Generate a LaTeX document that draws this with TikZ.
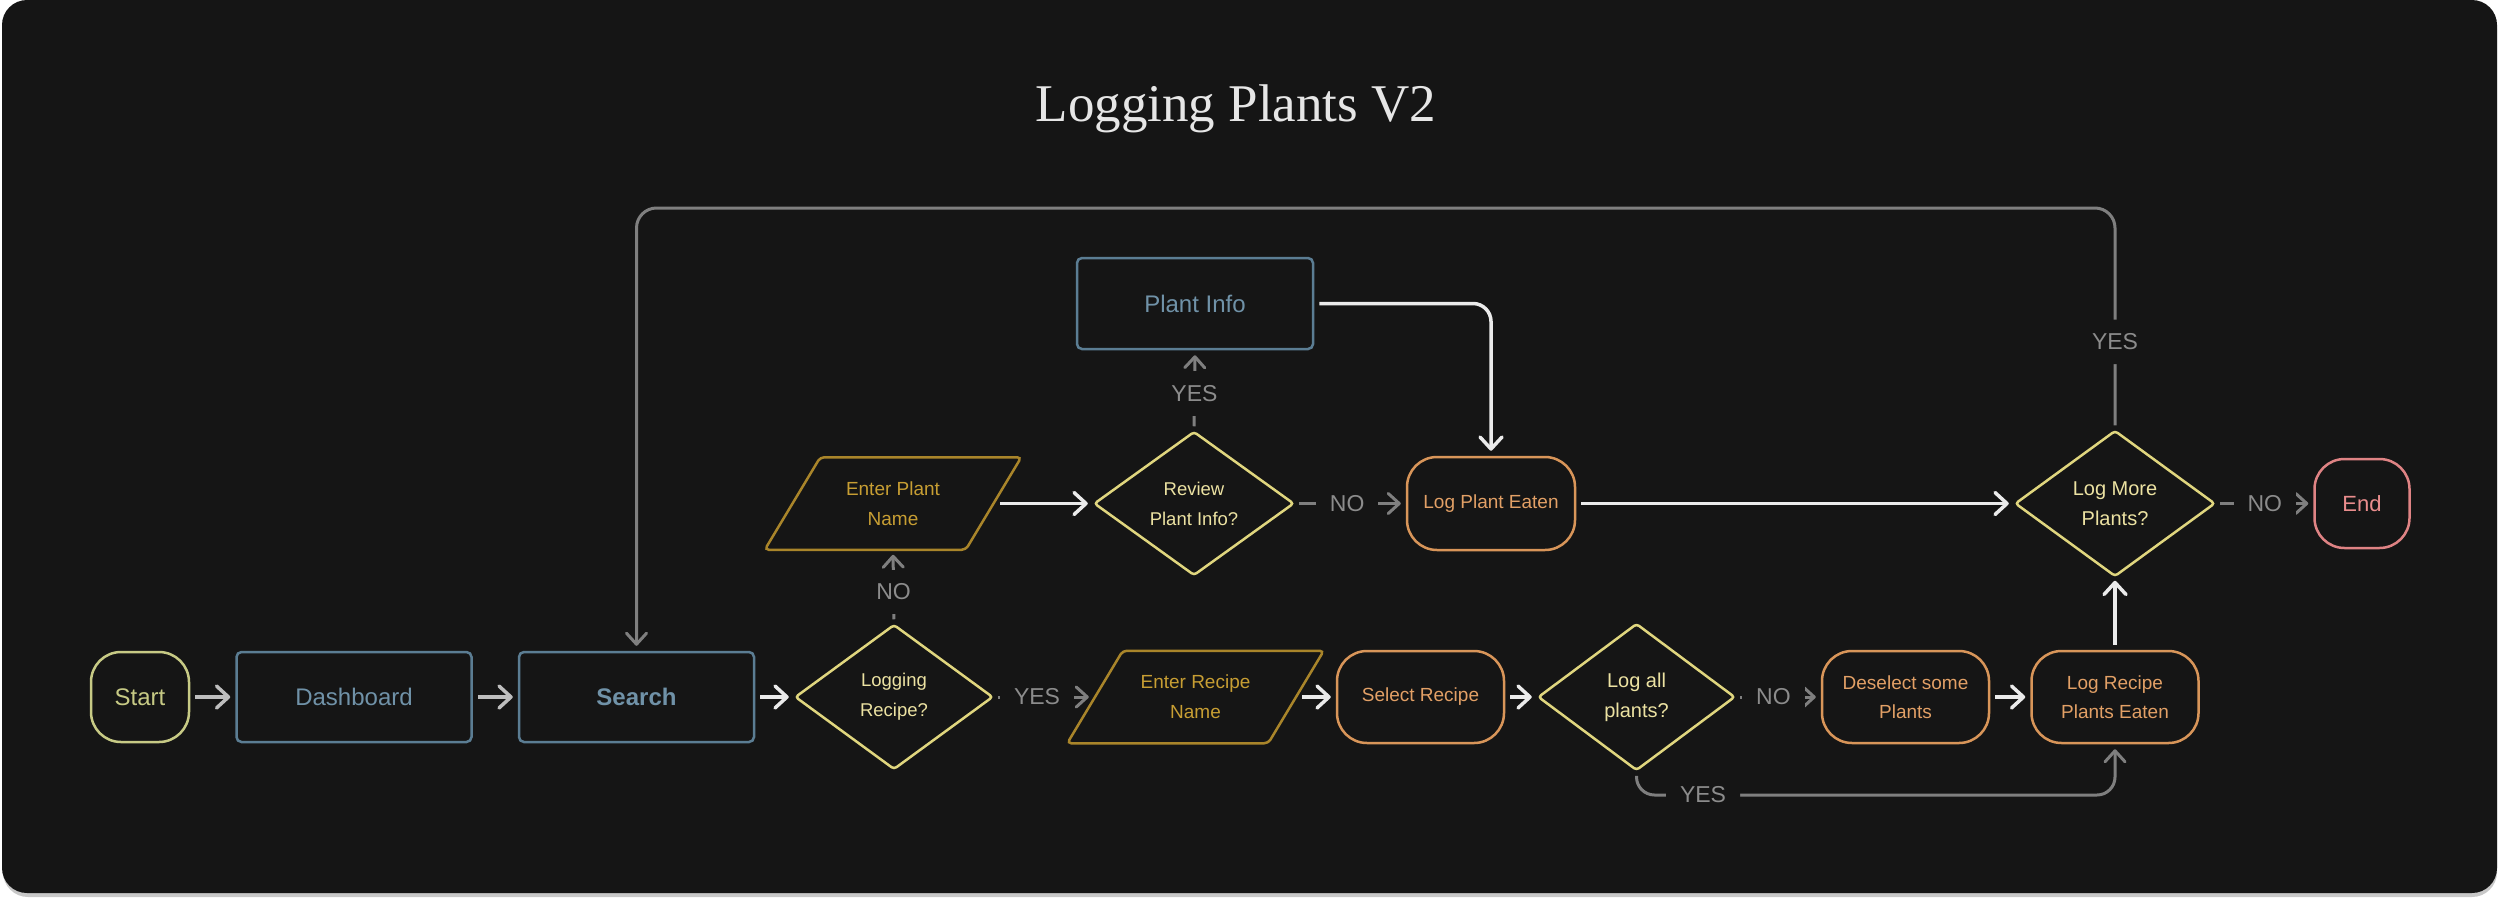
\documentclass[tikz,border=0pt]{standalone}
\usepackage{fontspec}
\setmainfont{Liberation Sans}
\newfontfamily\titlefont{Liberation Serif}
\usetikzlibrary{arrows.meta,shapes.geometric,calc}
\definecolor{bg}{HTML}{151515}
\definecolor{cStart}{HTML}{C7CA85}
\definecolor{cBlue}{HTML}{5B7D93}
\definecolor{tBlue}{HTML}{7092A8}
\definecolor{cDia}{HTML}{E0D67E}
\definecolor{tDia}{HTML}{ECE2A2}
\definecolor{cPara}{HTML}{A9852A}
\definecolor{tPara}{HTML}{C79E33}
\definecolor{cOr}{HTML}{D89559}
\definecolor{tOr}{HTML}{E2A066}
\definecolor{cEnd}{HTML}{DF8384}
\definecolor{tEnd}{HTML}{EA8D8D}
\definecolor{cW}{HTML}{EBEBEB}
\definecolor{cWtwo}{HTML}{BEBEBE}
\definecolor{cG}{HTML}{7F7F7F}
\definecolor{tG}{HTML}{8C8C8C}
\definecolor{cTitle}{HTML}{E6E6E6}
\definecolor{shadowc}{HTML}{C8C8C8}
\begin{document}
\begin{tikzpicture}[x=1pt,y=-1pt,
  base/.style={line width=2.5pt, inner sep=0pt, align=center, font=\fontsize{19}{30}\selectfont},
  blueb/.style={base, draw=cBlue, text=tBlue, rounded corners=5pt, minimum width=235pt, minimum height=90pt, font=\fontsize{24}{30}\selectfont},
  orng/.style={base, draw=cOr, text=tOr, rounded corners=30pt, minimum width=167pt, minimum height=92pt, font=\fontsize{19}{29}\selectfont},
  dia/.style={base, diamond, draw=cDia, text=tDia, rounded corners=3pt, minimum width=198pt, minimum height=145pt},
  para/.style={base, text=tPara, minimum width=254pt, minimum height=90pt},
  parashape/.style={draw=cPara, line width=2.5pt, rounded corners=4pt},
  warrow/.style={draw=cW, line width=3.5pt, -{Straight Barb[length=12pt,width=22pt,round]}, shorten <=5pt, shorten >=5pt},
  garrow/.style={draw=cG, line width=3pt, -{Straight Barb[length=11pt,width=20pt,round]}, shorten <=4pt, shorten >=5pt},
  lbl/.style={fill=bg, text=tG, inner xsep=14pt, inner ysep=14pt, font=\fontsize{23}{23}\selectfont},
]
\useasboundingbox (0,0) rectangle (2500,900);
\fill[white] (0,0) rectangle (2500,900);
\fill[shadowc, rounded corners=25pt] (3,4) rectangle (2497,897);
\fill[bg, rounded corners=25pt] (2,0) rectangle (2497,893);

\node[font=\titlefont\fontsize{53}{60}\selectfont, text=cTitle, anchor=base] (title) at (1236,121) {Logging Plants V2};

% bottom row
\node[base, draw=cStart, text=cStart, rounded corners=30pt, minimum width=98pt, minimum height=90pt, font=\fontsize{24}{30}\selectfont] (start) at (140,697) {Start};
\node[blueb] (dash) at (354,697) {Dashboard};
\node[blueb, font=\fontsize{24}{30}\selectfont\bfseries] (search) at (636.5,697) {Search};
\node[dia, font=\fontsize{18.5}{30}\selectfont] (logrec) at (894,697) {Logging\\Recipe?};
\node[para] (erec) at (1195.5,697) {Enter Recipe\\Name};
\draw[parashape] (erec.south west) -- ($(erec.south west)+(201,0)$) -- (erec.north east) -- ($(erec.north east)+(-201,0)$) -- cycle;
\coordinate (erecl) at ($(erec.west)+(26.5,0)$);
\coordinate (erecr) at ($(erec.east)+(-26.5,0)$);
\node[orng] (selrec) at (1420.5,697) {Select Recipe};
\node[dia, font=\fontsize{20}{30}\selectfont, minimum width=197pt, minimum height=147pt] (logall) at (1636.5,697) {Log all\\plants?};
\node[orng] (desel) at (1905.5,697) {Deselect some\\Plants};
\node[orng] (logrp) at (2115,697) {Log Recipe\\Plants Eaten};

% middle row
\node[para] (epn) at (893,503.5) {Enter Plant\\Name};
\draw[parashape] (epn.south west) -- ($(epn.south west)+(201,0)$) -- (epn.north east) -- ($(epn.north east)+(-201,0)$) -- cycle;
\coordinate (epnr) at ($(epn.east)+(-26.5,0)$);
\node[dia, minimum width=200pt, minimum height=144pt, font=\fontsize{18.5}{30}\selectfont] (review) at (1194,503.5) {Review\\Plant Info?};
\node[orng, minimum width=168pt, minimum height=93pt] (lpe) at (1491,503.5) {Log Plant Eaten};
\node[dia, minimum width=200pt, minimum height=146pt, font=\fontsize{20}{30}\selectfont] (logmore) at (2115,503.5) {Log More\\Plants?};
\node[base, draw=cEnd, text=tEnd, rounded corners=30pt, minimum width=95pt, minimum height=89pt, font=\fontsize{22}{30}\selectfont] (endn) at (2362,503.5) {End};

% top row
\node[blueb, minimum width=236pt, minimum height=91pt] (pinfo) at (1195,303.5) {Plant Info};

% white connectors
\draw[warrow, draw=cWtwo] (start) -- (dash);
\draw[warrow, draw=cWtwo] (dash) -- (search);
\draw[warrow] (search) -- (logrec);
\draw[warrow] (erecr) -- (selrec);
\draw[warrow] (selrec) -- (logall);
\draw[warrow] (desel) -- (logrp);
\draw[warrow] (epnr) -- (review);
\draw[warrow] (lpe) -- (logmore);
\draw[warrow, shorten >=3pt] (logrp) -- (logmore);
\draw[warrow, rounded corners=18pt] (pinfo.east) -| (lpe.north);

% gray labelled connectors
\draw[garrow] (logrec.east) -- node[lbl, pos=0.43]{YES} (erecl);
\draw[garrow] (review.east) -- node[lbl, pos=0.47]{NO} (lpe.west);
\draw[garrow] (logall.east) -- node[lbl, pos=0.44]{NO} (desel.west);
\draw[garrow] (logmore.east) -- node[lbl, pos=0.5]{NO} (endn.west);
\draw[garrow] (logrec.north) -- node[lbl, pos=0.43]{NO} (epn.south);
\draw[garrow] (review.north) -- node[lbl, pos=0.46]{YES} (pinfo.south);
\coordinate (looptop) at (2115,208);
\draw[garrow, rounded corners=20pt] (logmore.north) -- node[lbl, pos=0.395]{YES} (logmore.north |- looptop) -| (search.north);
\coordinate (bline) at (1705,795);
\draw[garrow, rounded corners=18pt] (logall.south) -- (logall.south |- bline) -- node[lbl, pos=0.139]{YES} (logrp.south |- bline) -- (logrp.south);
\end{tikzpicture}
\end{document}
